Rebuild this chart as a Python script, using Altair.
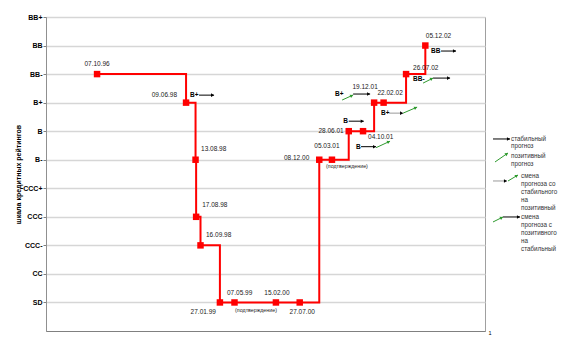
import math
import json
import pandas as pd
import altair as alt

# ---------------- data ----------------
DATES = ["07.10.96", "09.06.98", "13.08.98", "17.08.98", "16.09.98", "27.01.99",
         "07.05.99", "15.02.00", "27.07.00", "08.12.00", "05.03.01", "28.06.01",
         "04.10.01", "19.12.01", "22.02.02", "26.07.02", "05.12.02"]
RATINGS = ["BB-", "B+", "B-", "CCC", "CCC-", "SD", "SD", "SD", "SD", "B-", "B-",
           "B", "B", "B+", "B+", "BB-", "BB"]
SCALE_LEVELS = ["SD", "CC", "CCC-", "CCC", "CCC+", "B-", "B", "B+", "BB-", "BB", "BB+"]
AXIS_TITLE = "шкала кредитных рейтингов"
CONFIRM_TEXT = "(подтверждение)"
CONFIRM_AT = ["07.05.99", "05.03.01"]
# outlook notes: (anchor date, rating text)
OUTLOOK_AT = ["09.06.98", "28.06.01", "04.10.01", "19.12.01", "22.02.02", "26.07.02", "05.12.02"]
OUTLOOK_TEXT = ["B+", "B", "B", "B+", "B+", "BB-", "BB"]
LEGEND_TEXTS = [["стабильный", "прогноз"],
                ["позитивный", "прогноз"],
                ["смена", "прогноза со", "стабильного", "на", "позитивный"],
                ["смена", "прогноза с", "позитивного", "на", "стабильный"]]
X_END_LABEL = "1"
X_START = (1995, 10, 23)
X_END = (2004, 1, 18)


def iso(s):
    d, m, y = s.split(".")
    yy = int(y)
    year = 1900 + yy if yy > 50 else 2000 + yy
    return f"{year:04d}-{m}-{d}"


pts = pd.DataFrame({"label": DATES, "date": [iso(s) for s in DATES], "rating": RATINGS})
pts["lvl"] = [SCALE_LEVELS.index(r) + 1 for r in RATINGS]

FONT = "Liberation Sans"
RED = "#ff0000"
GREEN = "#2e9a2e"

xscale = alt.Scale(domain=[alt.DateTime(year=X_START[0], month=X_START[1], date=X_START[2], utc=True),
                           alt.DateTime(year=X_END[0], month=X_END[1], date=X_END[2], utc=True)])
yscale = alt.Scale(domain=[0, len(SCALE_LEVELS)], nice=False, zero=False)

label_expr = json.dumps(SCALE_LEVELS).replace('"', "'") + "[datum.value - 1]"

X = alt.X("date:T", scale=xscale,
          axis=alt.Axis(labels=False, ticks=False, grid=False, title=None,
                        domainColor="#808080", domainWidth=1))
Y = alt.Y("lvl:Q", scale=yscale,
          axis=alt.Axis(values=list(range(1, len(SCALE_LEVELS) + 1)), labelExpr=label_expr,
                        grid=True, gridColor="#d6d6d6", gridWidth=1.5,
                        tickSize=3, tickColor="#808080", labelPadding=1,
                        labelFont=FONT, labelFontSize=7, labelColor="#000000",
                        labelFontWeight="bold",
                        domainColor="#909090", title=AXIS_TITLE, titleFont=FONT,
                        titleFontSize=7, titleFontWeight="bold", titleColor="#000000",
                        titlePadding=1))

layers = []

# step line and markers
layers.append(alt.Chart(pts).mark_line(interpolate="step-after", color=RED, strokeWidth=2)
              .encode(x=X, y=Y))
layers.append(alt.Chart(pts).mark_square(size=42, color=RED, opacity=1)
              .encode(x=X, y=Y))

# date labels (dx, dy, align) per point
LABEL_STYLE = [(0, -10, "center"), (-9, -7.5, "right"), (5.5, -10.5, "left"),
               (6, -12, "left"), (5.5, -10.5, "left"), (-4, 9.5, "right"),
               (-7.5, -9.5, "left"), (1, -9.5, "center"), (2.5, 9.5, "center"),
               (-10, -2, "right"), (-5, -13.5, "center"), (-5, 0, "right"),
               (5, 6, "left"), (-9, -15.5, "center"), (6.5, -9.5, "center"),
               (7, -6, "left"), (0.5, -9.5, "left")]
for i, (dx, dy, al) in enumerate(LABEL_STYLE):
    layers.append(alt.Chart(pts.iloc[[i]]).mark_text(
        dx=dx, dy=dy, align=al, baseline="middle", font=FONT, fontSize=6.5, color="#222222")
        .encode(x=X, y=Y, text="label:N"))

# confirmation notes
CONFIRM_STYLE = [(21.5, 7.5), (15, 6.5)]
for lbl, (dx, dy) in zip(CONFIRM_AT, CONFIRM_STYLE):
    layers.append(alt.Chart(pts[pts.label == lbl]).mark_text(
        text=CONFIRM_TEXT, dx=dx, dy=dy, align="center", baseline="middle",
        font=FONT, fontSize=5.3, color="#222222").encode(x=X, y=Y))


def arrow(df, x0, y0, x1, y1, color, head_color=None, head=True):
    out = [alt.Chart(df).mark_rule(color=color, strokeWidth=1, xOffset=x0, x2Offset=x1,
                                   yOffset=y0, y2Offset=y1)
           .encode(x=X, x2=alt.X2("date"), y=Y, y2=alt.Y2("lvl"))]
    if head:
        ang = math.atan2(y1 - y0, x1 - x0)
        out.append(alt.Chart(df).mark_point(
            shape="triangle-right", filled=True, size=13, opacity=1, strokeWidth=0,
            color=head_color or color, angle=math.degrees(ang) % 360,
            xOffset=x1 - 1.5 * math.cos(ang), yOffset=y1 - 1.5 * math.sin(ang))
            .encode(x=X, y=Y))
    return out


# outlook annotations: text offset + arrow segments (style)
OUTLOOK_STYLE = {
    "09.06.98": ((4, -7.5), [(13, -7.5, 28, -7.5, "#000000", None)]),
    "28.06.01": ((-5.5, -10), [(0, -10, 15, -10, "#000000", None)]),
    "04.10.01": ((-7, 15.5), [(-2, 15.5, 13, 15.5, "#000000", None),
                              (13, 16.5, 27, 10, GREEN, None)]),
    "19.12.01": ((-39, -8.5), [(-32, -2.6, -21, -7.6, GREEN, None),
                               (-21, -8.6, -4, -8.6, "#000000", None)]),
    "22.02.02": ((-2.5, 10.5), [(5.5, 10.5, 19.5, 10.5, "#9a9a9a", "#000000"),
                                (19.5, 10.5, 33.5, 4.5, GREEN, None)]),
    "26.07.02": ((7, 5), [(17, 9, 27, 4, GREEN, None),
                          (27, 4, 44, 4, "#000000", None)]),
    "05.12.02": ((5.7, 5.5), [(15.7, 5.5, 30.7, 5.5, "#000000", None)]),
}
for lbl, txt in zip(OUTLOOK_AT, OUTLOOK_TEXT):
    (tdx, tdy), segs = OUTLOOK_STYLE[lbl]
    df = pts[pts.label == lbl]
    layers.append(alt.Chart(df).mark_text(
        text=txt, dx=tdx, dy=tdy, align="left", baseline="middle", font=FONT,
        fontSize=6.5, fontWeight="bold", color="#000000").encode(x=X, y=Y))
    for (a, b, c, d, col, hc) in segs:
        layers.extend(arrow(df, a, b, c, d, col, hc))

# legend (anchored at the right end of the time axis, level of "B")
anchor = pd.DataFrame({"date": [f"{X_END[0]:04d}-{X_END[1]:02d}-{X_END[2]:02d}"],
                       "lvl": [SCALE_LEVELS.index("B") + 1]})
LEGEND_STYLE = [
    ((26, 4.8, 7.5), [(8, 7.8, 25, 7.8, "#000000", None)]),
    ((26, 21.8, 8), [(10, 30.8, 23, 21.8, GREEN, None)]),
    ((36, 42.1, 8), [(8, 49.8, 22, 49.8, "#9a9a9a", "#000000"),
                     (23, 49.8, 33, 43.8, GREEN, None)]),
    ((36, 82.8, 8), [(8, 90.8, 18, 85.8, GREEN, None),
                     (18, 85.8, 35, 85.8, "#000000", None)]),
]
for lines, ((tdx, tdy, lh), segs) in zip(LEGEND_TEXTS, LEGEND_STYLE):
    layers.append(alt.Chart(anchor).mark_text(
        text=lines, dx=tdx, dy=tdy, align="left", baseline="top", lineHeight=lh,
        font=FONT, fontSize=6.3, color="#333333").encode(x=X, y=Y))
    for (a, b, c, d, col, hc) in segs:
        layers.extend(arrow(anchor, a, b, c, d, col, hc))

# stray category label at the end of the x axis
end0 = anchor.assign(lvl=0)
layers.append(alt.Chart(end0).mark_text(
    text=X_END_LABEL, dx=5, dy=2, align="center", baseline="middle", font=FONT,
    fontSize=5.5, color="#000000").encode(x=X, y=Y))

chart = (alt.layer(*layers)
         .properties(width=439, height=314, autosize="none",
                     padding={"left": 46, "top": 17, "right": 81, "bottom": 22},
                     background="#ffffff")
         .configure_view(stroke="#a0a0a0", strokeWidth=1))

chart.save("out.html", embed_options={"renderer": "svg", "actions": False})
